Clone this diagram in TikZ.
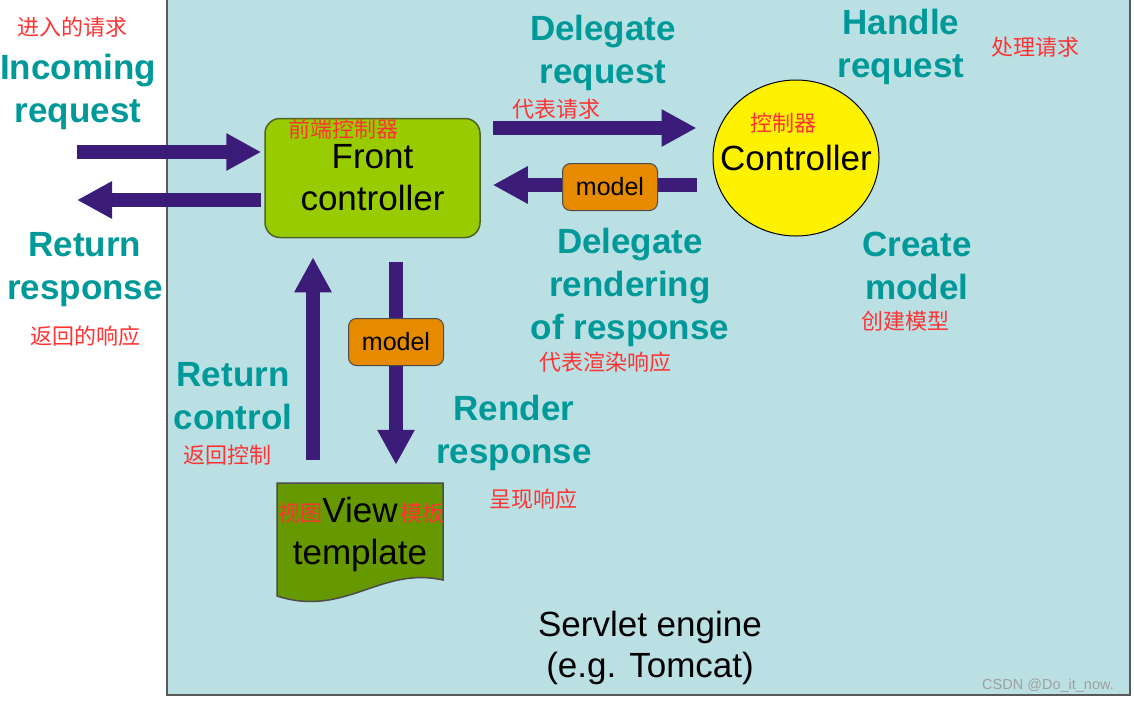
\documentclass[tikz,border=0pt]{standalone}
\usepackage{fontspec}
\setmainfont{Liberation Sans}
\newfontfamily\cjk{Noto Sans CJK SC}
\usetikzlibrary{shapes.geometric,arrows.meta}
\definecolor{panelblue}{HTML}{BAE0E3}
\definecolor{tealtxt}{HTML}{009999}
\definecolor{redtxt}{HTML}{FF3333}
\definecolor{arrowpurple}{HTML}{3B1C78}
\definecolor{fcgreen}{HTML}{99CC00}
\definecolor{fcborder}{HTML}{4F6228}
\definecolor{viewgreen}{HTML}{669900}
\definecolor{modelorange}{HTML}{E68A00}

\begin{document}
\begin{tikzpicture}[x=1pt,y=-1pt,
  tlabel/.style={font=\bfseries\fontsize{35}{43}\selectfont, text=tealtxt, align=center, inner sep=0, yshift=-3pt},
  cn/.style={font=\cjk\fontsize{22}{22}\selectfont, text=redtxt, inner sep=0},
  bigarrow/.style={draw=arrowpurple, line width=14pt, -{Triangle[length=35pt,width=35pt]}},
  modelbox/.style={draw=black!70, line width=1pt, fill=modelorange, rounded corners=8pt, minimum width=95pt, minimum height=47pt, font=\fontsize{25}{25}\selectfont, inner sep=0},
  plain/.style={font=\fontsize{35}{42}\selectfont, align=center, inner sep=0}]
\useasboundingbox (0,0) rectangle (1134,702);
\fill[white] (0,0) rectangle (1134,702);
\path[fill=panelblue, draw=black!65, line width=2pt] (167,-5) rectangle (1130,695);

% boxes
\node[plain, draw=fcborder, line width=1.5pt, fill=fcgreen, rounded corners=15pt, minimum width=215pt, minimum height=119pt] (front) at (372.5,178) {Front\\controller};
\node[ellipse, draw=black, line width=1pt, fill=yellow, minimum width=166pt, minimum height=156pt, inner sep=0,
  label={[font=\fontsize{35}{35}\selectfont, inner sep=0]center:Controller}] (ctrl) at (796,158) {};
\filldraw[fill=viewgreen, draw=black!70, line width=1.5pt] (277,483) -- (443,483) -- (443,580) .. controls (380,566) and (345,618) .. (277,596) -- cycle;
\node[plain, minimum width=166pt, minimum height=102pt] (view) at (360,534) {View\\template};

% arrows
\coordinate (inS) at (77,152);
\coordinate (outE) at (77,200);
\coordinate (dreq) at (0,128);
\coordinate (mret) at (0,185);
\coordinate (rend) at (396,0);
\coordinate (rctl) at (313,0);
\draw[bigarrow, shorten >=3pt] (inS) -- (inS -| front.west);
\draw[bigarrow, shorten <=3pt] (outE -| front.west) -- (outE);
\draw[bigarrow, shorten <=12pt, shorten >=16pt] (dreq -| front.east) -- (dreq -| ctrl.west);
\draw[bigarrow, shorten <=16pt, shorten >=12pt] (mret -| ctrl.west) -- (mret -| front.east);
\draw[bigarrow, shorten <=24pt, shorten >=18pt] (rend |- front.south) -- (rend |- view.north);
\draw[bigarrow, shorten <=23pt, shorten >=19pt] (rctl |- view.north) -- (rctl |- front.south);
\node[modelbox] (m1) at (610,187) {model};
\node[modelbox] (m2) at (396,342) {model};

% labels
\node[tlabel] (inc) at (78,89) {Incoming\\request};
\node[tlabel] (ret) at (85,267) {Return\\response};
\node[tlabel] (dlg) at (603,50) {Delegate\\request};
\node[tlabel] (hdl) at (901,44) {Handle\\request};
\node[tlabel] (drr) at (630,284) {Delegate\\rendering\\of response};
\node[tlabel] (crm) at (917,263) {Create\\model};
\node[tlabel] (rcl) at (233,393) {Return\\control};
\node[tlabel] (rrs) at (514,430) {Render\\response};

\node[cn] (inc-cn) at (72,27) {进入的请求};
\node[cn] (ret-cn) at (85,336) {返回的响应};
\node[cn] (dlg-cn) at (556,109) {代表请求};
\node[cn] (hdl-cn) at (1035,47) {处理请求};
\node[cn] (front-cn) at (343,129) {前端控制器};
\node[cn] (ctrl-cn) at (783,123) {控制器};
\node[cn] (crm-cn) at (905,321) {创建模型};
\node[cn] (drr-cn) at (605,362) {代表渲染响应};
\node[cn] (rcl-cn) at (227,455) {返回控制};
\node[cn] (rrs-cn) at (533,499) {呈现响应};
\node[cn] (view-cn1) at (300,513) {视图};
\node[cn] (view-cn2) at (422,513) {模板};

\node[plain, font=\fontsize{35}{41}\selectfont] (eng) at (650,648) {Servlet engine\\(e.g. Tomcat)};
\node[inner sep=0, text=gray!75, font=\fontsize{14.5}{14.5}\selectfont] (mark) at (1048,686) {CSDN @Do\_it\_now.};
\end{tikzpicture}
\end{document}
